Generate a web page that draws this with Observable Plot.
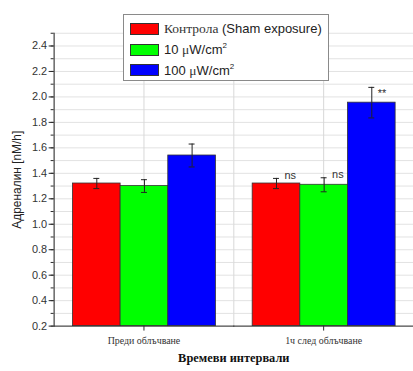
<!DOCTYPE html>
<html>
<head>
<meta charset="utf-8">
<script src="https://cdn.jsdelivr.net/npm/d3@7"></script>
<script src="https://cdn.jsdelivr.net/npm/@observablehq/plot@0.6"></script>
<style>
  html, body { margin: 0; padding: 0; background: #fff; }
  #wrap { position: relative; width: 413px; height: 371px; overflow: hidden; background: #fff; }
  #wrap svg { position: absolute; left: 0; top: 0; }
  #legend { position: absolute; left: 123px; top: 14px; width: 204px; height: 65px;
    border: 1px solid #8a8a8a; background: #fff; font-family: "Liberation Sans", Arial, sans-serif;
    font-size: 13px; color: #222; }
  .row { position: absolute; left: 6px; height: 14px; display: flex; align-items: center; white-space: nowrap; }
  .sw { width: 27px; height: 10px; border: 1px solid #333; margin-right: 5px; }
  .serif { font-family: "Liberation Serif", "DejaVu Serif", serif; font-size: 13.5px; color: #333; }
  sup { font-size: 8px; vertical-align: 6px; }
</style>
</head>
<body>
<div id="wrap"></div>
<script>
const groups = ["Преди облъчване", "1ч след облъчване"];
const seriesKeys = ["control", "low", "high"];
const seriesLabels = ["<span class='serif'>Контрола</span>&nbsp;(Sham exposure)", "10 <span class='serif'>μ</span>W/cm<sup>2</sup>", "100 <span class='serif'>μ</span>W/cm<sup>2</sup>"];
const colors = ["#ff0000", "#00ff00", "#0000ff"];
const beforeValues = [1.32, 1.30, 1.54];
const beforeErrors = [0.04, 0.05, 0.09];
const afterValues = [1.32, 1.31, 1.955];
const afterErrors = [0.04, 0.055, 0.12];
const beforeNotes = ["", "", ""];
const afterNotes = ["ns", "ns", "**"];
const yDomain = [0.2, 2.5];
const yMajor = [0.2, 0.4, 0.6, 0.8, 1.0, 1.2, 1.4, 1.6, 1.8, 2.0, 2.2, 2.4];
const yMinor = [0.2, 0.3, 0.4, 0.5, 0.6, 0.7, 0.8, 0.9, 1.0, 1.1, 1.2, 1.3, 1.4, 1.5, 1.6, 1.7, 1.8, 1.9, 2.0, 2.1, 2.2, 2.3, 2.4, 2.5];

const data = [];
seriesKeys.forEach((s, i) => data.push({group: groups[0], series: s, value: beforeValues[i], err: beforeErrors[i], note: beforeNotes[i]}));
seriesKeys.forEach((s, i) => data.push({group: groups[1], series: s, value: afterValues[i], err: afterErrors[i], note: afterNotes[i]}));

const axisColor = "#2a2a2a";
const chart = Plot.plot({
  width: 416, height: 371,
  marginLeft: 53, marginRight: 0, marginTop: 33, marginBottom: 43,
  style: {fontFamily: "'Liberation Sans', Arial, sans-serif", background: "transparent", color: axisColor},
  fx: {domain: groups, padding: 0, label: null},
  x: {domain: seriesKeys, paddingInner: 0, paddingOuter: 0.37, axis: null},
  y: {domain: yDomain},
  color: {domain: seriesKeys, range: colors},
  marks: [
    Plot.gridY(yMinor, {stroke: "#e2e2e2", strokeOpacity: 1}),
    Plot.gridFx({stroke: "#d8d8d8", strokeOpacity: 1}),
    Plot.frame({anchor: "left", stroke: "#d8d8d8"}),
    Plot.barY(data, {fx: "group", x: "series", y1: () => yDomain[0], y2: "value", fill: "series", stroke: "#333", strokeWidth: 0.8}),
    Plot.ruleX(data, {fx: "group", x: "series", y1: d => d.value - d.err, y2: d => d.value + d.err, stroke: "#222", strokeWidth: 1}),
    Plot.tickY(data, {fx: "group", x: "series", y: d => d.value + d.err, insetLeft: 21, insetRight: 21, stroke: "#222"}),
    Plot.tickY(data, {fx: "group", x: "series", y: d => d.value - d.err, insetLeft: 21, insetRight: 21, stroke: "#222"}),
    Plot.text(data.filter(d => d.note === "ns"), {fx: "group", x: "series", y: d => d.value + d.err, text: "note", textAnchor: "start", dx: 8, dy: -3, fontSize: 11, fill: "#333"}),
    Plot.text(data.filter(d => d.note === "**"), {fx: "group", x: "series", y: d => d.value + d.err, text: "note", textAnchor: "start", dx: 6, dy: 6, fontSize: 11, fill: "#333"}),
    Plot.frame({anchor: "left", stroke: axisColor, facetAnchor: "left"}),
    Plot.frame({anchor: "bottom", stroke: axisColor}),
    Plot.axisY(yMajor, {tickSize: 5, tickPadding: 2, tickFormat: d => d.toFixed(1), fontSize: 11, fill: "#333", label: null}),
    Plot.axisY(yMinor, {tickSize: 3, tickFormat: () => "", label: "Адреналин [nM/h]", labelAnchor: "center", labelOffset: 42, labelArrow: "none", fontSize: 12, fill: "#222"}),
    Plot.axisFx({anchor: "bottom", tickSize: 5, tickPadding: 6, fontFamily: "'Liberation Serif', serif", fontSize: 10, fill: "#333", label: null}),
    Plot.axisFx({anchor: "bottom", tickSize: 0, tickFormat: () => "", label: "Времеви интервали", labelAnchor: "center", labelOffset: 36, labelArrow: "none", fontWeight: "bold", fontFamily: "'Liberation Serif', serif", fontSize: 12.5, fill: "#111"})
  ]
});
const wrap = document.getElementById("wrap");
wrap.appendChild(chart);

const legend = document.createElement("div");
legend.id = "legend";
seriesLabels.forEach((lab, i) => {
  const row = document.createElement("div");
  row.className = "row";
  row.style.top = (7 + i * 20.5) + "px";
  row.innerHTML = `<div class="sw" style="background:${colors[i]}"></div><span>${lab}</span>`;
  legend.appendChild(row);
});
wrap.appendChild(legend);
</script>
</body>
</html>
